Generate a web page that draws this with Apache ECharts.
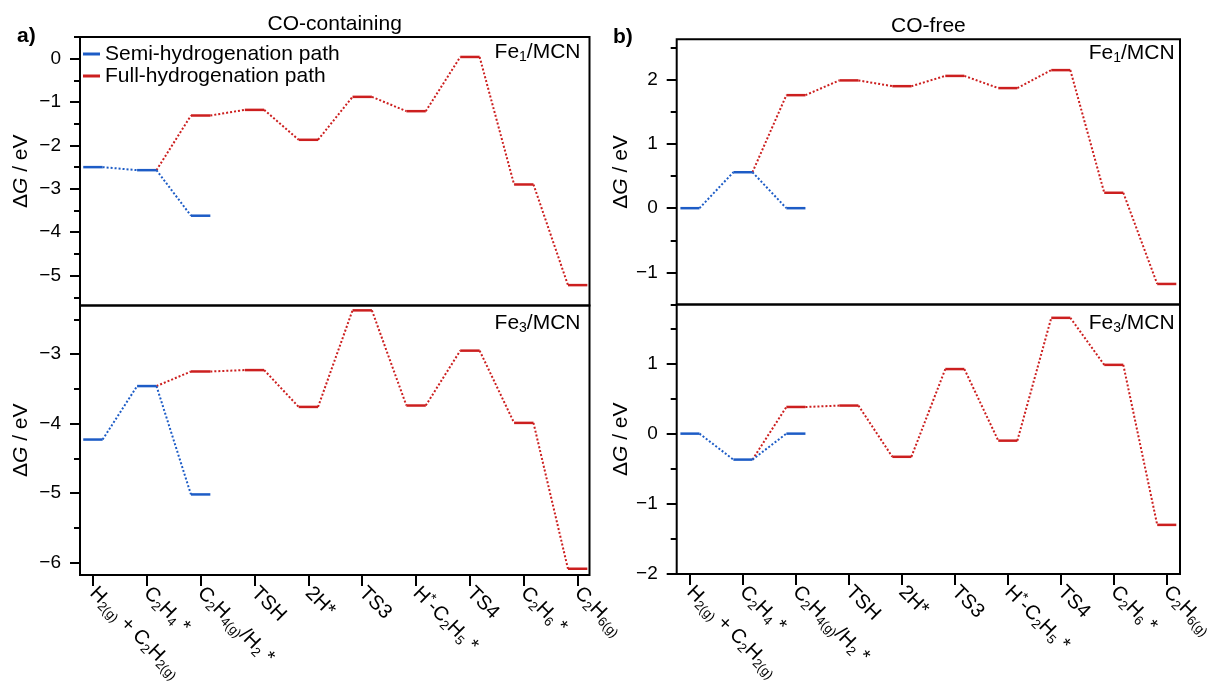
<!DOCTYPE html>
<html>
<head>
<meta charset="utf-8">
<script src="https://cdn.jsdelivr.net/npm/echarts@6/dist/echarts.min.js"></script>
<style>
  html, body { margin: 0; padding: 0; background: #fff; }
  #chart { width: 1212px; height: 700px; }
</style>
</head>
<body>
<div id="chart"></div>
<script>
// Reaction steps along the x axis (rich-text labels with subscripts)
const steps = [
  '{n|H}{s|2(g)}{n| + C}{s|2}{n|H}{s|2(g)}',
  '{n|C}{s|2}{n|H}{s|4}{n| *}',
  '{n|C}{s|2}{n|H}{s|4(g)}{n|/H}{s|2}{n| *}',
  '{n|TSH}',
  '{n|2H*}',
  '{n|TS3}',
  '{n|H}{u|*}{n|-C}{s|2}{n|H}{s|5}{n| *}',
  '{n|TS4}',
  '{n|C}{s|2}{n|H}{s|6}{n| *}',
  '{n|C}{s|2}{n|H}{s|6(g)}'
];

// Free energies (eV). Semi-hydrogenation covers steps 0-2;
// full hydrogenation branches off step 1 and covers steps 2-9.
const semiCoFe1  = [-2.50, -2.57, -3.62];
const fullCoFe1  = [-1.31, -1.18, -1.87, -0.88, -1.21, 0.04, -2.90, -5.22];
const semiCoFe3  = [-4.23, -3.46, -5.02];
const fullCoFe3  = [-3.25, -3.23, -3.76, -2.37, -3.74, -2.95, -3.99, -6.09];
const semiFreeFe1 = [0.00, 0.56, 0.00];
const fullFreeFe1 = [1.76, 1.99, 1.90, 2.06, 1.87, 2.15, 0.24, -1.18];
const semiFreeFe3 = [0.00, -0.37, 0.00];
const fullFreeFe3 = [0.38, 0.40, -0.33, 0.92, -0.10, 1.65, 0.98, -1.30];

// Y-axis tick labels per panel
const ticksCoFe1   = [0, -1, -2, -3, -4, -5];
const ticksCoFe3   = [-3, -4, -5, -6];
const ticksFreeFe1 = [2, 1, 0, -1];
const ticksFreeFe3 = [1, 0, -1, -2];

const BLUE = '#1d5cc6';
const RED = '#cc1f1f';
const FONT = 'Liberation Sans, Arial, sans-serif';
const HALF = 0.18; // half width of an energy level, in step units

// Turn a path (start index + energies) into level / connector segments
function pathSegments(start, values, branchFrom) {
  const segs = [];
  if (branchFrom) {
    segs.push([branchFrom[0] + HALF, branchFrom[1], start - HALF, values[0], 1]);
  }
  values.forEach((v, i) => {
    const x = start + i;
    segs.push([x - HALF, v, x + HALF, v, 0]);
    if (i < values.length - 1) {
      segs.push([x + HALF, v, x + 1 - HALF, values[i + 1], 1]);
    }
  });
  return segs;
}

function energySeries(name, color, gridIdx, data) {
  return {
    type: 'custom',
    name: name,
    xAxisIndex: gridIdx,
    yAxisIndex: gridIdx * 2,
    itemStyle: { color: color },
    encode: { x: [0, 2], y: [1, 3] },
    data: data,
    silent: true,
    renderItem: function (params, api) {
      const p1 = api.coord([api.value(0), api.value(1)]);
      const p2 = api.coord([api.value(2), api.value(3)]);
      const level = api.value(4) === 0;
      return {
        type: 'line',
        shape: { x1: p1[0], y1: p1[1], x2: p2[0], y2: p2[1] },
        style: {
          stroke: color,
          lineWidth: level ? 2.5 : 2,
          lineDash: level ? null : [2, 2]
        }
      };
    }
  };
}

const minus = v => String(v).replace('-', '\u2212');

const grids = [
  { left: 80, width: 509.5, top: 37, height: 268.5 },
  { left: 80, width: 509.5, top: 305.5, height: 269.5 },
  { left: 676.7, width: 503.3, top: 39.3, height: 265.2 },
  { left: 676.7, width: 503.3, top: 304.5, height: 269.5 }
].map(g => Object.assign(g, {
  show: true, borderColor: '#000', borderWidth: 2,
  containLabel: false, outerBoundsMode: 'none'
}));

const yRanges = [
  { min: -5.69, max: 0.5, ticks: ticksCoFe1 },
  { min: -6.18, max: -2.3, ticks: ticksCoFe3 },
  { min: -1.5, max: 2.63, ticks: ticksFreeFe1 },
  { min: -2.0, max: 1.84, ticks: ticksFreeFe3 }
];

function halfTicks(min, max) {
  const out = [];
  for (let v = Math.ceil(min * 2) / 2; v <= max + 1e-9; v += 0.5) {
    if (Math.abs(v - Math.round(v)) > 1e-6) out.push(+v.toFixed(2));
  }
  return out;
}

const yAxes = [];
yRanges.forEach((r, i) => {
  const right = i >= 2;
  yAxes.push({
    type: 'value', gridIndex: i, min: r.min, max: r.max, position: 'left',
    splitLine: { show: false },
    axisLine: { show: false, onZero: false },
    axisTick: { show: true, customValues: r.ticks, length: 10, lineStyle: { color: '#000', width: 2 } },
    axisLabel: {
      show: true, customValues: r.ticks, margin: 19,
      color: '#000', fontSize: 19, fontFamily: FONT,
      formatter: v => minus(v)
    },
    name: '{n|\u0394}{i|G}{n| / eV}',
    nameLocation: 'middle',
    nameRotate: 90,
    nameGap: right ? 45 : 48,
    nameTextStyle: {
      color: '#000', fontFamily: FONT,
      rich: {
        n: { fontSize: 21, fontFamily: FONT, color: '#000' },
        i: { fontSize: 21, fontFamily: FONT, color: '#000', fontStyle: 'italic' }
      }
    }
  });
  // minor ticks at half-integers
  yAxes.push({
    type: 'value', gridIndex: i, min: r.min, max: r.max, position: 'left',
    splitLine: { show: false },
    axisLine: { show: false, onZero: false },
    axisLabel: { show: false },
    axisTick: { show: true, customValues: halfTicks(r.min, r.max), length: 6, lineStyle: { color: '#000', width: 2 } }
  });
});

const xRanges = [
  { min: -0.24, max: 9.22 }, { min: -0.24, max: 9.22 },
  { min: -0.25, max: 9.25 }, { min: -0.25, max: 9.25 }
];
const stepIdx = steps.map((s, i) => i);
const xAxes = xRanges.map((r, i) => {
  const bottom = i === 1 || i === 3;
  return {
    type: 'value', gridIndex: i, min: r.min, max: r.max, position: 'bottom',
    splitLine: { show: false },
    axisLine: { show: false, onZero: false },
    axisTick: { show: bottom, customValues: stepIdx, length: 11, lineStyle: { color: '#000', width: 2 } },
    axisLabel: {
      show: bottom, customValues: stepIdx, rotate: -45, margin: 15,
      color: '#000', fontFamily: FONT, fontSize: 20,
      formatter: v => steps[Math.round(v)],
      rich: {
        n: { fontSize: 20, fontFamily: FONT, color: '#000', lineHeight: 24 },
        s: { fontSize: 13, fontFamily: FONT, color: '#000', lineHeight: 12, verticalAlign: 'bottom' },
        u: { fontSize: 14, fontFamily: FONT, color: '#000', lineHeight: 12, verticalAlign: 'top' }
      }
    }
  };
});

const panels = [
  [semiCoFe1, fullCoFe1], [semiCoFe3, fullCoFe3],
  [semiFreeFe1, fullFreeFe1], [semiFreeFe3, fullFreeFe3]
];
const series = [];
panels.forEach(([semi, full], g) => {
  series.push(energySeries('Full-hydrogenation path', RED, g,
    pathSegments(2, full, [1, semi[1]])));
  series.push(energySeries('Semi-hydrogenation path', BLUE, g,
    pathSegments(0, semi, null)));
});

const labelRich = {
  n: { fontSize: 21, fontFamily: FONT, fill: '#000', lineHeight: 24 },
  s: { fontSize: 14, fontFamily: FONT, fill: '#000', lineHeight: 12, verticalAlign: 'bottom' }
};
function txt(x, y, text, opts) {
  return {
    type: 'text', x: x, y: y, silent: true,
    style: Object.assign({
      text: text, fill: '#000', fontFamily: FONT, fontSize: 21,
      align: 'center', verticalAlign: 'middle'
    }, opts || {})
  };
}

const graphics = [
  txt(334.7, 24.5, 'CO-containing'),
  txt(928.4, 26.5, 'CO-free'),
  txt(17, 36, 'a)', { align: 'left', fontWeight: 'bold' }),
  txt(613, 37, 'b)', { align: 'left', fontWeight: 'bold' }),
  txt(580.5, 52, '{n|Fe}{s|1}{n|/MCN}', { align: 'right', rich: labelRich }),
  txt(580.5, 323, '{n|Fe}{s|3}{n|/MCN}', { align: 'right', rich: labelRich }),
  txt(1174.6, 53, '{n|Fe}{s|1}{n|/MCN}', { align: 'right', rich: labelRich }),
  txt(1174.6, 323, '{n|Fe}{s|3}{n|/MCN}', { align: 'right', rich: labelRich })
];

const chart = echarts.init(document.getElementById('chart'), null, { renderer: 'canvas' });
chart.setOption({
  backgroundColor: '#fff',
  animation: false,
  grid: grids,
  xAxis: xAxes,
  yAxis: yAxes,
  legend: {
    data: ['Semi-hydrogenation path', 'Full-hydrogenation path'],
    orient: 'vertical',
    left: 83, top: 43, padding: 0, itemGap: 0,
    itemWidth: 17, itemHeight: 3, icon: 'rect',
    selectedMode: false,
    textStyle: { fontSize: 21, fontFamily: FONT, color: '#000', lineHeight: 22 }
  },
  graphic: graphics,
  series: series
});
</script>
</body>
</html>
